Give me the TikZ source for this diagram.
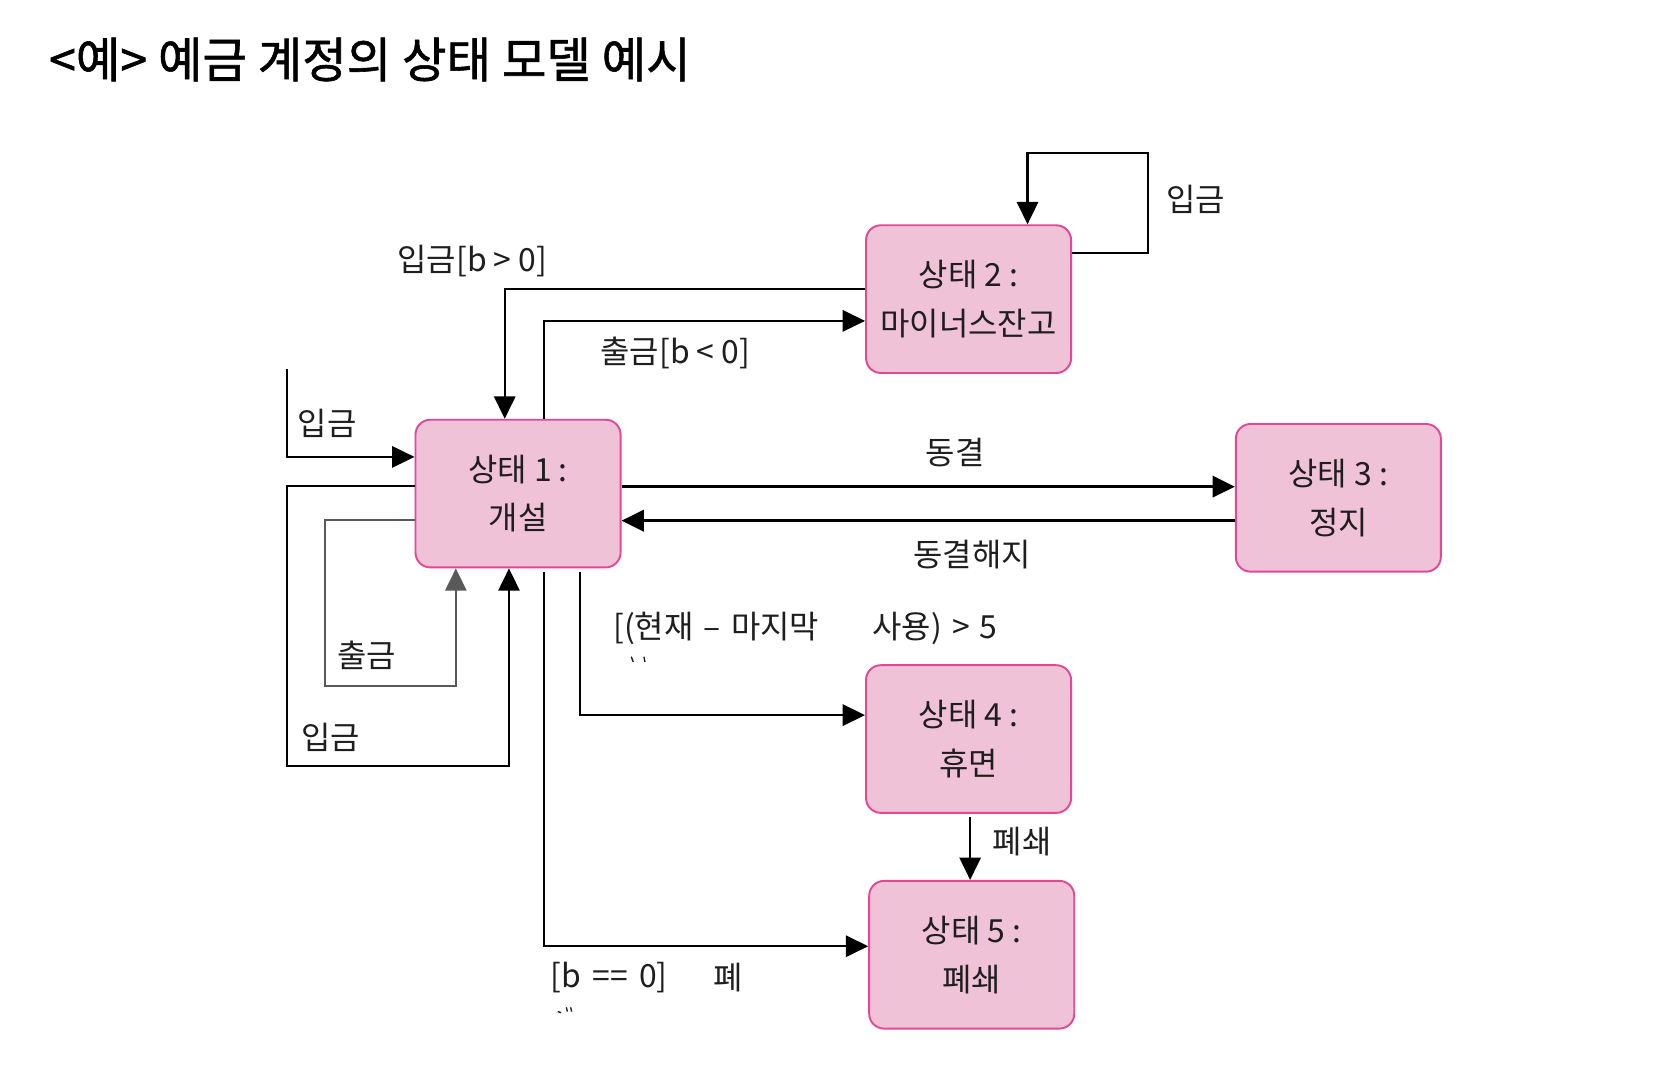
\documentclass[tikz,border=0pt]{standalone}
\usepackage{fontspec}
\setmainfont{Noto Sans CJK KR}
\newfontfamily\titlefont[FakeBold=1.2]{Noto Sans CJK KR}
\usetikzlibrary{arrows.meta}
\definecolor{boxfill}{RGB}{240,194,216}
\definecolor{boxline}{RGB}{226,72,150}
\definecolor{txt}{RGB}{30,30,30}
\begin{document}
\begin{tikzpicture}[x=1pt,y=-1pt,
  state/.style={draw=boxline, fill=boxfill, line width=1.8pt, rounded corners=14pt,
    minimum width=193pt, minimum height=139pt, inner sep=0pt, align=center,
    text=txt, font=\fontsize{30}{46}\selectfont},
  conn/.style={line width=2pt, draw=black, -{Triangle[length=21pt,width=20pt]}},
  thick conn/.style={conn, line width=2.8pt},
  lbl/.style={font=\fontsize{30}{32}\selectfont, inner sep=0pt, text=txt},
]
\path[use as bounding box, fill=white] (0,0) rectangle (1566,1009);

% title
\node[anchor=west, inner sep=0pt, font=\titlefont\fontsize{45.5}{50}\selectfont] (title) at (46,56) {<예> 예금 계정의 상태 모델 예시};

% states
\node[state] (s1) at (487.5,464.5) {상태 1 :\\개설};
\node[state] (s2) at (911.5,281.5) {상태 2 :\\마이너스잔고};
\node[state] (s3) at (1259.5,468.5) {상태 3 :\\정지};
\node[state] (s4) at (911.5,695.5) {상태 4 :\\휴면};
\node[state] (s5) at (914.5,898.5) {상태 5 :\\폐쇄};

% initial transition
\coordinate (init) at (270,347);
\draw[conn] (init) |- ([yshift=34.5pt]s1.west);

% outer self loop (입금)
\draw[conn] ([yshift=7.5pt]s1.west) -| (270,721) -| ([xshift=-8.5pt]s1.south);
% inner self loop (출금)
\draw[conn, draw=black!65] ([yshift=-24.5pt]s1.west) -| (306,646) -| ([xshift=-58.5pt]s1.south);

% s2 -> s1
\draw[conn] ([yshift=9.5pt]s2.west) -| ([xshift=-12.5pt]s1.north);
% s1 -> s2
\draw[conn] ([xshift=24.5pt]s1.north) |- ([yshift=-20.5pt]s2.west);
% s2 self loop
\draw[conn] ([yshift=43.5pt]s2.east) -| (1080,144) -| ([xshift=55.5pt]s2.north);

% s1 <-> s3
\draw[thick conn] ([yshift=6.5pt]s1.east) -- ([yshift=10.5pt]s3.west);
\draw[thick conn] ([yshift=-21.5pt]s3.west) -- ([yshift=-25.5pt]s1.east);

% s1 -> s4
\draw[conn] ([xshift=58.5pt,yshift=-3pt]s1.south) |- ([yshift=22.5pt]s4.west);
% s1 -> s5
\draw[conn] ([xshift=24.5pt,yshift=-3pt]s1.south) |- ([yshift=8pt]s5.west);
% s4 -> s5
\draw[conn] ([xshift=1.5pt,yshift=-3pt]s4.south) -- ([xshift=-1.5pt]s5.north);

% labels
\node[lbl] (l1) at (308,398) {입금};
\node[lbl] (l2) at (311,694) {입금};
\node[lbl] (l3) at (345,617) {출금};
\node[lbl, anchor=west] (l4) at (374,246) {입금[b > 0]};
\node[lbl, anchor=west] (l5) at (565,332) {출금[b < 0]};
\node[lbl] (l6) at (1125,188) {입금};
\node[lbl] (l7) at (899,426) {동결};
\node[lbl] (l8) at (915,522) {동결해지};
\node[lbl, anchor=west] (l9) at (577,591) {[(현재\hspace{3pt} – \hspace{3pt}마지막\hspace{50pt}사용)\hspace{3pt} > \hspace{2pt}5};
\node[lbl, anchor=west] (l10) at (518,920) {[b\hspace{4pt} == \hspace{4pt}0]};
\node[lbl] (l11) at (685,920) {폐};
\node[lbl] (l12) at (962,792) {폐쇄};

% clipped text fragments
\draw[line width=1.3pt, txt] (594,618) -- (596,623) (606,618) -- (607,623);
\draw[line width=1.3pt, txt] (525,952) -- (528,953) (533,948) -- (534,952) (537,948) -- (538,952);
\end{tikzpicture}
\end{document}
